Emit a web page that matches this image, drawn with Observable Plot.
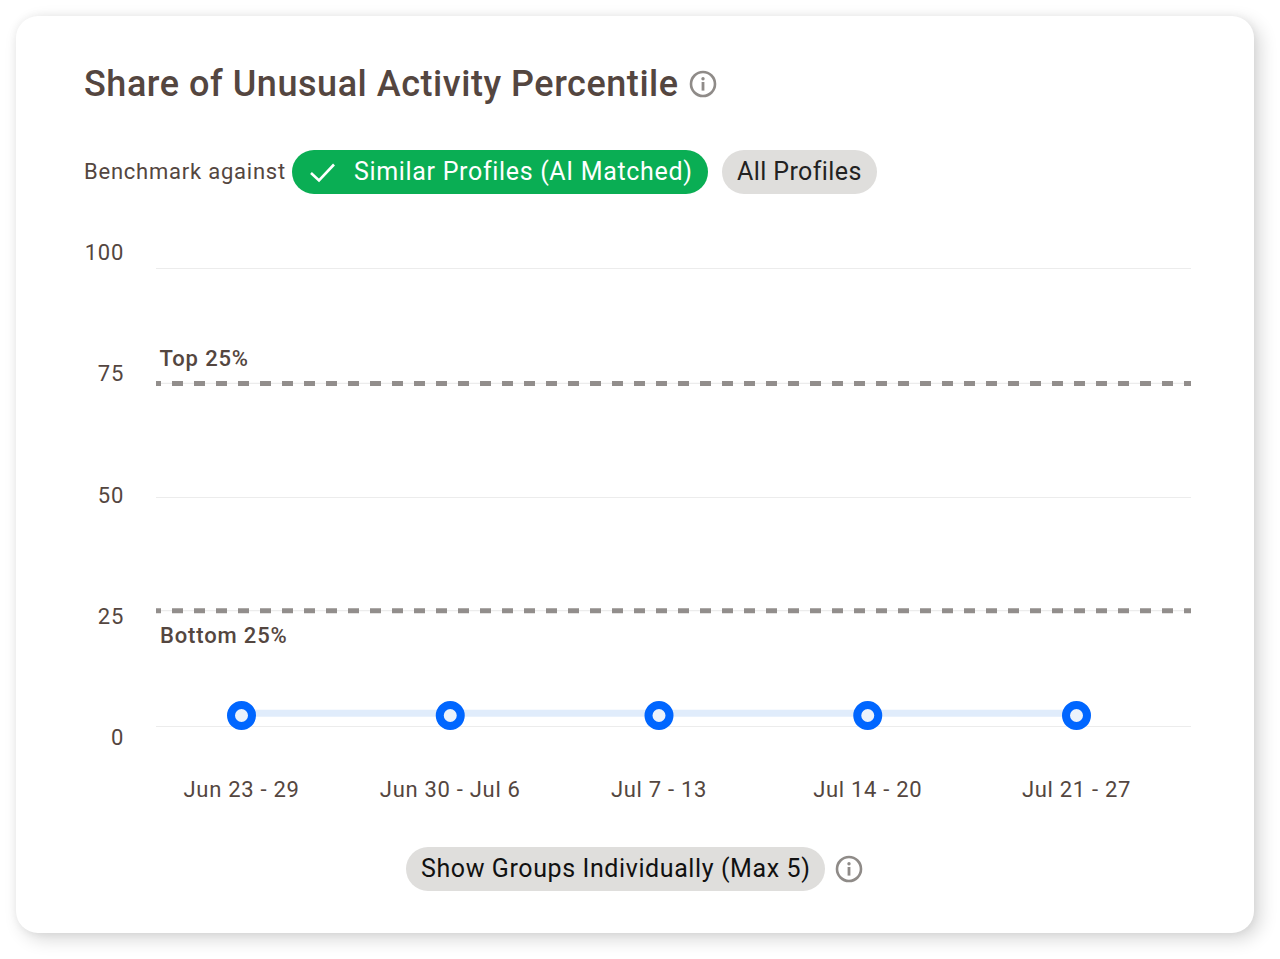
<!DOCTYPE html>
<html><head><meta charset="utf-8">
<script src="https://cdn.jsdelivr.net/npm/d3@7"></script>
<script src="https://cdn.jsdelivr.net/npm/@observablehq/plot@0.6"></script>
<style>
html,body{margin:0;padding:0;background:#fff;width:1280px;height:959px;overflow:hidden;font-family:Roboto,sans-serif}
#card{position:absolute;left:16px;top:16px;width:1238px;height:917px;background:#fff;border-radius:22px;box-shadow:6px 6px 18px rgba(0,0,0,.16),0 0 8px rgba(0,0,0,.06)}
#chart{position:absolute;left:0;top:0}
#chart svg{display:block;background:transparent}
#chart svg text{letter-spacing:.7px}
#chart svg .bm text{letter-spacing:.85px}
.t{position:absolute;white-space:nowrap;line-height:1}
#title{left:84px;top:66px;font-size:36px;font-weight:500;color:#544640;letter-spacing:.54px}
#bench{left:84px;top:161px;font-size:22px;color:#544640;letter-spacing:.77px}
.pill{position:absolute;height:44px;border-radius:22px;box-sizing:border-box;line-height:44px;font-size:25px;white-space:nowrap}
#p1{left:292px;top:150px;width:416px;background:#0aae54;color:#fff;padding-left:62px;letter-spacing:.67px}
#p2{left:722px;top:150px;width:155px;background:#dfdedc;color:#222;padding-left:15px;letter-spacing:.4px}
#p3{left:406px;top:847px;width:419px;background:#dfdedc;color:#111;padding-left:15px;letter-spacing:.6px}
.ic{position:absolute}
</style></head><body>
<div id="card"></div>
<div id="chart"></div>
<div class="t" id="title">Share of Unusual Activity Percentile</div>
<svg class="ic" style="left:689px;top:70px" width="28" height="28" viewBox="0 0 28 28"><circle cx="14" cy="14" r="12" fill="none" stroke="#8f8b88" stroke-width="2.6"/><circle cx="14" cy="8.8" r="1.7" fill="#8f8b88"/><rect x="12.6" y="12" width="2.8" height="8.6" fill="#8f8b88"/></svg>
<div class="t" id="bench">Benchmark against</div>
<div class="pill" id="p1">Similar Profiles (AI Matched)</div>
<svg class="ic" style="left:308px;top:160px" width="30" height="24" viewBox="0 0 30 24"><path d="M3 13 L11 20.5 L26 4.5" fill="none" stroke="#fff" stroke-width="2.6"/></svg>
<div class="pill" id="p2">All Profiles</div>
<div class="pill" id="p3">Show Groups Individually (Max 5)</div>
<svg class="ic" style="left:835px;top:855px" width="28" height="28" viewBox="0 0 28 28"><circle cx="14" cy="14" r="12" fill="none" stroke="#8f8b88" stroke-width="2.6"/><circle cx="14" cy="8.8" r="1.7" fill="#8f8b88"/><rect x="12.6" y="12" width="2.8" height="8.6" fill="#8f8b88"/></svg>
<script>
const weeks = ["Jun 23 - 29","Jun 30 - Jul 6","Jul 7 - 13","Jul 14 - 20","Jul 21 - 27"];
const dotValues = [2.4,2.4,2.4,2.4,2.4];
const bandValues = [2.9,2.9,2.9,2.9,2.9];
const yTicks = [0,25,50,75,100];
const gridLines = [0,50,100];
const topBenchmark = [74.9];
const bottomBenchmark = [25.3];

const row = (vals) => weeks.map((w,i)=>({week:w,v:vals[i]}));
// axis labels sit on a slightly wider spread than the gridlines
const labelShift = {0:11,25:5,50:-2,75:-9,100:-16};

const plot = Plot.plot({
  width:1280,height:959,
  marginLeft:156,marginRight:89,marginTop:268,marginBottom:233,
  style:{background:"transparent",fontFamily:"Roboto,sans-serif",overflow:"visible"},
  x:{type:"point",domain:weeks,range:[241,1076],padding:0,round:false,axis:null},
  y:{domain:[0,100],range:[726,268],axis:null},
  marks:[
    Plot.ruleY([...gridLines,...topBenchmark,...bottomBenchmark],{stroke:"#ececec",strokeWidth:1.2}),
    Plot.ruleY([...topBenchmark,...bottomBenchmark],{stroke:"#928e8c",strokeWidth:5,strokeDasharray:"11 11",strokeDashoffset:6}),
    ...yTicks.map(t=>Plot.text([t],{y:d=>d,frameAnchor:"left",dx:-32.5,dy:labelShift[t],textAnchor:"end",
      fontSize:22,fill:"#544640",text:d=>String(d)})),
    Plot.text(topBenchmark,{y:d=>d,frameAnchor:"left",dx:3,dy:-24.5,text:()=>"Top 25%",textAnchor:"start",fontSize:22,fontWeight:500,fill:"#544640",className:"bm"}),
    Plot.text(bottomBenchmark,{y:d=>d,frameAnchor:"left",dx:3.5,dy:25,text:()=>"Bottom 25%",textAnchor:"start",fontSize:22,fontWeight:500,fill:"#544640",className:"bm"}),
    Plot.lineY(row(bandValues),{x:"week",y:"v",stroke:"#e0ecfb",strokeWidth:7}),
    Plot.dot(row(dotValues),{x:"week",y:"v",r:10.5,stroke:"#0066ff",strokeWidth:8,fill:"#ebf2fb"}),
    Plot.text(weeks,{x:d=>d,frameAnchor:"bottom",dy:70,text:d=>d,fontSize:22,fill:"#544640"})
  ]
});
document.getElementById("chart").append(plot);
</script>
</body></html>
